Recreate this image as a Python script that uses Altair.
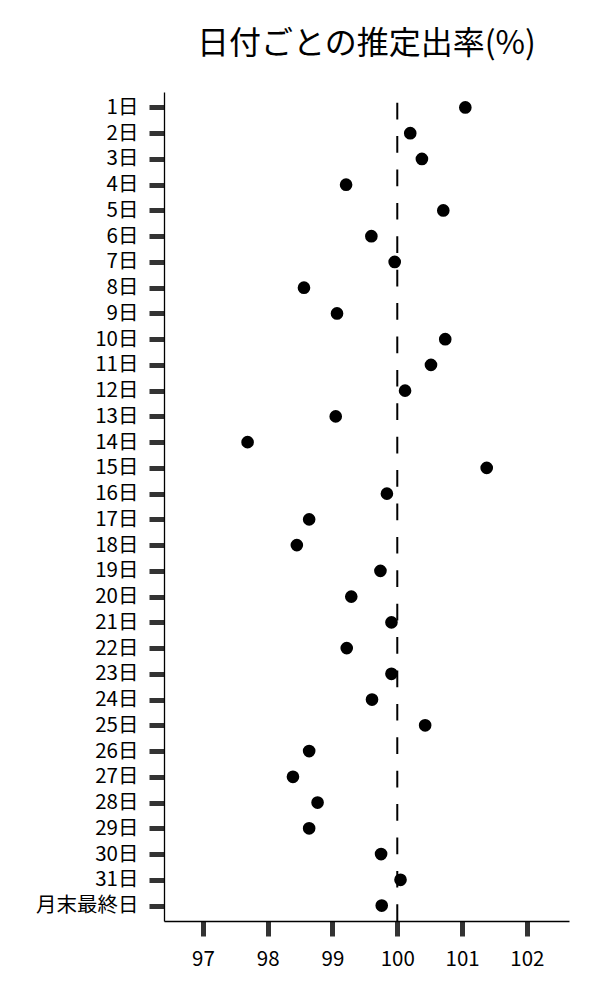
import altair as alt
import pandas as pd

days = [f"{i}日" for i in range(1, 32)] + ["月末最終日"]
rates = [101.05, 100.20, 100.38, 99.21, 100.71, 99.60, 99.96, 98.56, 99.07, 100.74,
         100.52, 100.12, 99.05, 97.69, 101.38, 99.84, 98.64, 98.45, 99.74, 99.29,
         99.91, 99.22, 99.91, 99.61, 100.43, 98.64, 98.39, 98.77, 98.64, 99.75,
         100.05, 99.76]
x_ticks = [97, 98, 99, 100, 101, 102]
ref_value = [100]
title_text = "日付ごとの推定出率(%)"

W, H = 405, 829
FONT = "Noto Sans CJK JP"

df = pd.DataFrame({"day": days, "rate": rates})
ref_df = pd.DataFrame({"ref": ref_value})

xscale = alt.Scale(domain=[96.4, 102.65], nice=False, zero=False)

points = alt.Chart(df).mark_circle(size=160, color="black", opacity=1).encode(
    x=alt.X("rate:Q", scale=xscale,
            axis=alt.Axis(values=x_ticks, title=None, grid=False,
                          domainColor="black", domainWidth=1.3,
                          tickColor="#333333", tickWidth=5, tickSize=15,
                          labelFontSize=20.5, labelColor="black", labelPadding=13,
                          labelFont=FONT, format="d")),
    y=alt.Y("day:N", sort=days, scale=alt.Scale(type="point", padding=0.6),
            axis=alt.Axis(title=None, grid=False,
                          domainColor="black", domainWidth=1.3,
                          tickColor="#333333", tickWidth=5, tickSize=15,
                          labelFontSize=20.5, labelColor="black", labelPadding=11,
                          labelFont=FONT)),
)

rule = alt.Chart(ref_df).mark_rule(color="black", strokeWidth=2,
                                   strokeDash=[16.7, 16.7]).encode(
    x=alt.X("ref:Q", scale=xscale),
    y=alt.value(H), y2=alt.value(0),
)

chart = alt.layer(rule, points).properties(
    width=W, height=H,
    title=alt.Title(title_text, fontSize=32, fontWeight="normal", color="black",
                    font=FONT, anchor="middle", offset=30),
    autosize=alt.AutoSizeParams(type="none"),
    padding={"left": 156, "top": 84, "right": 20, "bottom": 60},
    background="white",
).configure(font=FONT).configure_view(strokeWidth=0, stroke="transparent")

chart.save("out.html", embed_options={"renderer": "svg", "actions": False})
